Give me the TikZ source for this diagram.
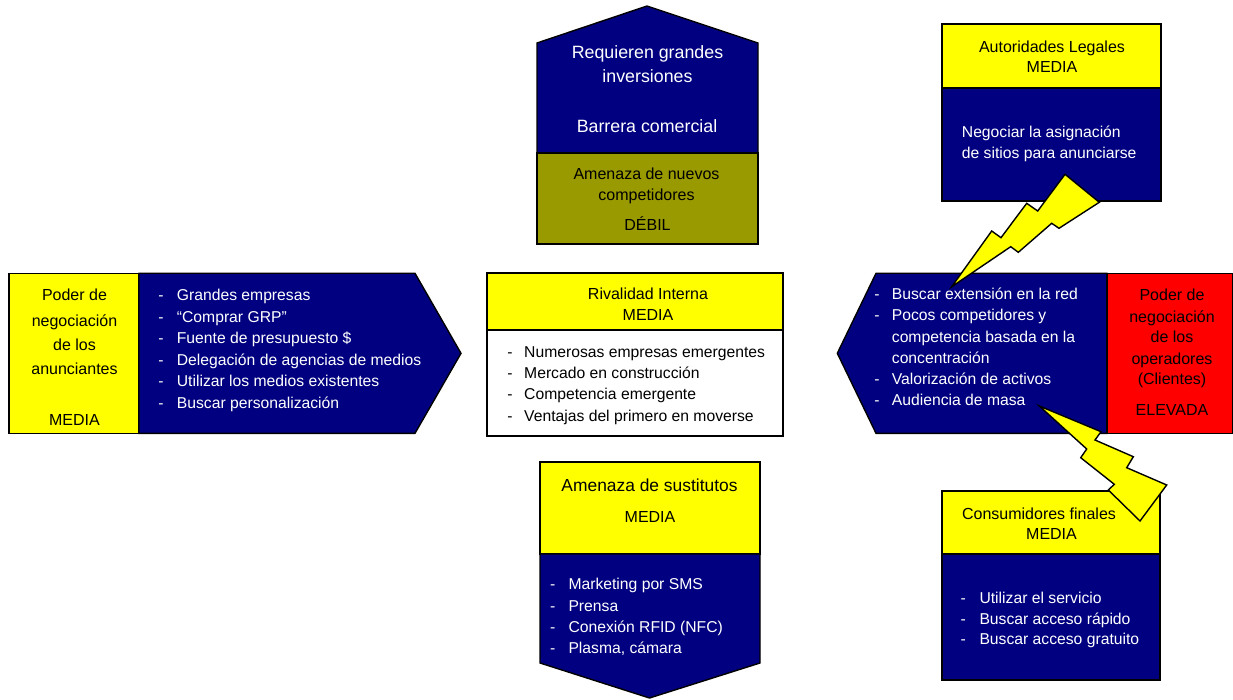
\documentclass[tikz,border=0pt]{standalone}
\usepackage{fontspec}
\setmainfont{Liberation Sans}
\definecolor{navyb}{RGB}{0,0,128}
\definecolor{oliveb}{RGB}{153,153,0}
\definecolor{yel}{RGB}{255,255,0}
\definecolor{redb}{RGB}{255,0,0}
\tikzset{
  box/.style={draw=black, line width=1.4pt, line join=miter},
  bolt/.style={fill=yel, draw=black, line width=1.4pt, line join=miter},
  hd/.style={inner sep=0pt, text height=11.5pt, text depth=0pt, font=\fontsize{16}{20}\selectfont},
  big/.style={inner sep=0pt, text height=12.8pt, text depth=0pt, font=\fontsize{17.8}{22}\selectfont, text=white},
  big2/.style={inner sep=0pt, text height=12.5pt, text depth=0pt, font=\fontsize{17.4}{22}\selectfont},
  li/.style={inner sep=0pt, anchor=west, text height=11.2pt, text depth=0pt, font=\fontsize{15.7}{20}\selectfont, text=white},
  lib/.style={li, text=black},
  dsh/.style={li, anchor=center},
  dshb/.style={lib, anchor=center},
}
\begin{document}
\begin{tikzpicture}[x=1pt,y=-1pt]
\useasboundingbox (0,0) rectangle (1233,700);

% ---- top centre: nuevos competidores
\filldraw[box, fill=navyb] (537,153) -- (537,43) -- (647,6) -- (758,43) -- (758,153) -- cycle;
\filldraw[box, fill=oliveb] (537,153) rectangle (758,244);
\node[big] (tc1) at (647.5,51.7) {Requieren grandes};
\node[big] (tc2) at (647.5,76) {inversiones};
\node[big] (tc3) at (647,126) {Barrera comercial};
\node[hd] (tc4) at (646.5,174) {Amenaza de nuevos};
\node[hd] (tc5) at (646.5,195) {competidores};
\node[hd] (tc6) at (647.5,225) {DÉBIL};

% ---- top right: autoridades legales
\filldraw[box, fill=yel] (942,24) rectangle (1161,88);
\filldraw[box, fill=navyb] (942,88) rectangle (1161,201);
\node[hd] (tr1) at (1052,46.7) {Autoridades Legales};
\node[hd] (tr2) at (1052,66.7) {MEDIA};
\node[li] (tr3) at (961.7,131.7) {Negociar la asignación};
\node[li] (tr4) at (961.7,152.7) {de sitios para anunciarse};

% ---- left: anunciantes
\filldraw[box, fill=yel] (9,273.3) rectangle (139,433.3);
\filldraw[box, fill=navyb] (139,273.3) -- (415,273.3) -- (461,353.3) -- (415,433.3) -- (139,433.3) -- cycle;
\node[hd] (l1) at (74.5,295) {Poder de};
\node[hd] (l2) at (74.5,321) {negociación};
\node[hd] (l3) at (74.5,345) {de los};
\node[hd] (l4) at (74.5,369) {anunciantes};
\node[hd] (l5) at (74.5,419.3) {MEDIA};
\foreach \t [count=\i] in {Grandes empresas, “Comprar GRP”, Fuente de presupuesto \$, Delegación de agencias de medios, Utilizar los medios existentes, Buscar personalización} {
  \node[li] (la\i) at (176.7,273.5+21.5*\i) {\t};
  \node[dsh] (lad\i) at (161,273.5+21.5*\i) {-};
}

% ---- centre: rivalidad interna
\filldraw[box, fill=yel] (487,273) rectangle (783,330);
\filldraw[box, fill=white] (487,330) rectangle (783,436);
\node[hd] (c1) at (648,294) {Rivalidad Interna};
\node[hd] (c2) at (648,315) {MEDIA};
\foreach \t [count=\i] in {Numerosas empresas emergentes, Mercado en construcción, Competencia emergente, Ventajas del primero en moverse} {
  \node[lib] (ca\i) at (524,331+21.1*\i) {\t};
  \node[dshb] (cad\i) at (510,331+21.1*\i) {-};
}

% ---- right: operadores
\filldraw[box, fill=navyb] (1107,273.3) -- (876,273.3) -- (837.3,353.3) -- (876,433.3) -- (1107,433.3) -- cycle;
\filldraw[box, fill=redb] (1107,273.3) rectangle (1232.3,433.3);
\foreach \t [count=\i] in {Buscar extensión en la red, Pocos competidores y, competencia basada en la, concentración, Valorización de activos, Audiencia de masa} {
  \node[li] (ra\i) at (891.7,272.8+21.2*\i) {\t};
}
\foreach \i in {1,2,5,6} {
  \node[dsh] (rad\i) at (877,272.8+21.2*\i) {-};
}
\node[hd] (r1) at (1172,295) {Poder de};
\node[hd] (r2) at (1172,316.7) {negociación};
\node[hd] (r3) at (1172,336.7) {de los};
\node[hd] (r4) at (1172,358.3) {operadores};
\node[hd] (r5) at (1172,378.3) {(Clientes)};
\node[hd] (r6) at (1172,410) {ELEVADA};

% ---- bottom centre: sustitutos
\filldraw[box, fill=yel] (540,462) rectangle (760,554);
\filldraw[box, fill=navyb] (540,554) -- (760,554) -- (760,663) -- (649.5,698) -- (540,663) -- cycle;
\node[big2] (b1) at (649.5,485) {Amenaza de sustitutos};
\node[hd] (b2) at (650,517) {MEDIA};
\foreach \t [count=\i] in {Marketing por SMS, Prensa, Conexión RFID (NFC), {Plasma, cámara}} {
  \node[li] (ba\i) at (568.3,563+21.3*\i) {\t};
  \node[dsh] (bad\i) at (552.7,563+21.3*\i) {-};
}

% ---- bottom right: consumidores finales
\filldraw[box, fill=yel] (942,491) rectangle (1160,554);
\filldraw[box, fill=navyb] (942,554) rectangle (1160,680);
\node[hd] (br1) at (1039,513.3) {Consumidores finales};
\node[hd] (br2) at (1051.5,533.3) {MEDIA};
\foreach \t [count=\i] in {Utilizar el servicio, Buscar acceso rápido, Buscar acceso gratuito} {
  \node[li] (bra\i) at (979.3,576.8+20.8*\i) {\t};
  \node[dsh] (brad\i) at (963.3,576.8+20.8*\i) {-};
}

% ---- lightning bolts
\filldraw[bolt] (951.7,286.7) -- (991.7,231) -- (1001,237.7) -- (1026.7,203.3) -- (1037.7,211) -- (1065,174.3) -- (1099.3,202.3) -- (1059,228.3) -- (1051.7,223.3) -- (1018.3,252.3) -- (1010.7,246.7) -- cycle;
\filldraw[bolt] (1039.3,406) -- (1101,431.7) -- (1095,440) -- (1133.3,456.7) -- (1126.7,467.7) -- (1166.7,485) -- (1140,521) -- (1108.3,490) -- (1114.3,484.3) -- (1080.7,457.7) -- (1086.7,449) -- cycle;
\end{tikzpicture}
\end{document}
